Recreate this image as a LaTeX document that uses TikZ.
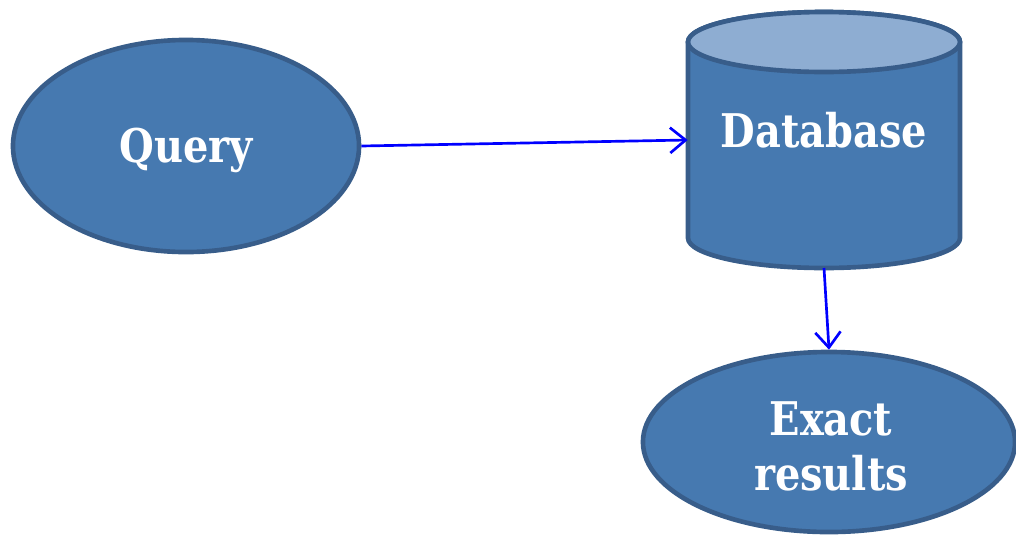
\documentclass[tikz,border=0pt]{standalone}
\usepackage{fontspec}
\setmainfont{DejaVu Serif}[FakeStretch=0.86]
\usetikzlibrary{arrows.meta,shapes.geometric}
\definecolor{fillblue}{HTML}{4679B0}
\definecolor{edgeblue}{HTML}{385D8A}
\definecolor{topblue}{HTML}{8EADD2}
\tikzset{
  blob/.style={ellipse, draw=edgeblue, fill=fillblue, line width=3.3pt, inner sep=0pt},
  lbl/.style={text=white, font=\fontsize{33}{39}\selectfont\bfseries, align=center},
  conn/.style={draw=blue, line width=1.9pt, -{Straight Barb[length=11pt,width=18pt,line width=1.9pt]}}
}
\begin{document}
\begin{tikzpicture}[x=0.025cm,y=-0.025cm]
\useasboundingbox (0,0) rectangle (1016,534);
% Query
\node[blob, minimum width=8.65cm, minimum height=5.3cm] (q) at (186,146) {};
\node[lbl] (qt) at (186,150) {Query};
% Database cylinder
\node[minimum width=6.8cm, minimum height=4.9cm, inner sep=0pt] (db) at (824,140) {};
\draw[draw=edgeblue, fill=fillblue, line width=3.3pt]
  (688,42) -- (688,238) arc[start angle=180, end angle=0, x radius=136, y radius=30]
  -- (960,42) arc[start angle=360, end angle=180, x radius=136, y radius=30] -- cycle;
\draw[draw=edgeblue, fill=topblue, line width=3.3pt] (824,42) ellipse[x radius=136, y radius=30];
\node[lbl] (dbt) at (824,130) {Database};
\coordinate (dbB) at (824,268);
% Exact results
\node[blob, minimum width=9.3cm, minimum height=4.5cm] (ex) at (829,442) {};
\node[lbl] (ext) at (831,446) {Exact\\results};
% connectors
\draw[conn] (q.east) -- (db.west);
\draw[conn] (dbB) -- (ex.north);
\end{tikzpicture}
\end{document}
